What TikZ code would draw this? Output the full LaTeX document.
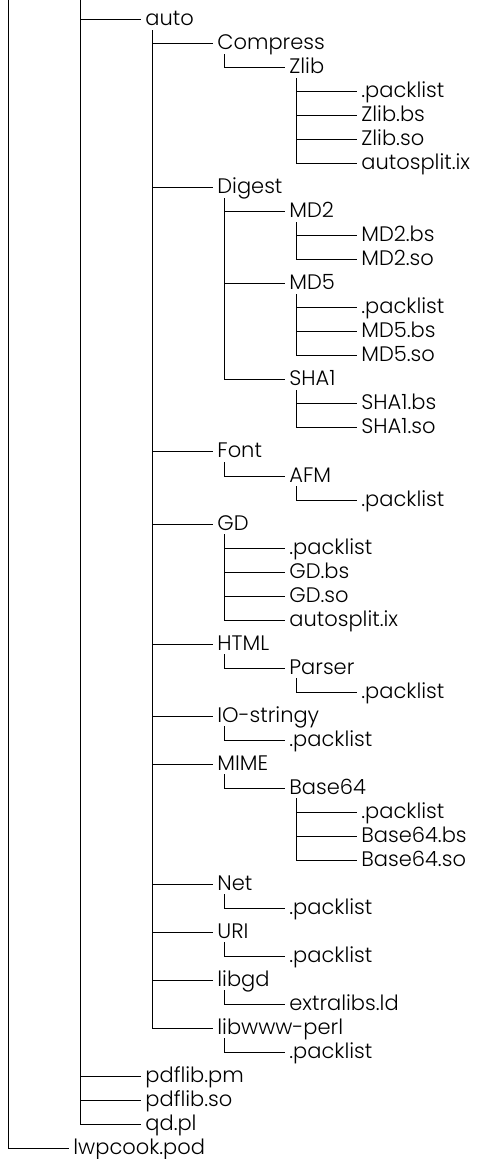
\documentclass[tikz,border=0pt]{standalone}
\usepackage{fontspec}
\setmainfont{Poppins}[UprightFont={* Light}]
\usetikzlibrary{calc}
\tikzset{
  %% 目录项
  entry/.style={anchor=west,inner xsep=2pt,inner ysep=0pt,
                text height=6pt,text depth=0pt,
                font=\fontsize{10.5}{13}\selectfont},
  %% 树枝连线
  branch/.style={draw=black,line width=0.5pt},
}
\begin{document}
\begin{tikzpicture}[x=0.5pt,y=-0.5pt]
    \useasboundingbox (0,0) rectangle (478,1159);

    %% 顶层（上方被截掉）
    \coordinate (rootA) at (8,-6);
    \coordinate (rootB) at (80,-6);

    %% 第一层
    \node[entry] (auto)     at (141,20)   {auto};
    \node[entry] (pdflibpm) at (141,1076) {pdflib.pm};
    \node[entry] (pdflibso) at (141,1100) {pdflib.so};
    \node[entry] (qdpl)     at (141,1124) {qd.pl};
    \node[entry] (lwpcook)  at (69,1148)  {lwpcook.pod};

    %% auto 下的目录
    \node[entry] (compress) at (213,44)   {Compress};
    \node[entry] (digest)   at (213,188)  {Digest};
    \node[entry] (font)     at (213,452)  {Font};
    \node[entry] (gd)       at (213,524)  {GD};
    \node[entry] (html)     at (213,644)  {HTML};
    \node[entry] (iostr)    at (213,716)  {IO-stringy};
    \node[entry] (mime)     at (213,764)  {MIME};
    \node[entry] (net)      at (213,884)  {Net};
    \node[entry] (uri)      at (213,932)  {URI};
    \node[entry] (libgd)    at (213,980)  {libgd};
    \node[entry] (libwww)   at (213,1028) {libwww-perl};

    %% Compress / Zlib
    \node[entry] (zlib)     at (285,68)   {Zlib};
    \node[entry] (zlibpl)   at (357,92)   {.packlist};
    \node[entry] (zlibbs)   at (357,116)  {Zlib.bs};
    \node[entry] (zlibso)   at (357,140)  {Zlib.so};
    \node[entry] (zlibix)   at (357,164)  {autosplit.ix};

    %% Digest
    \node[entry] (mdtwo)    at (285,212)  {MD2};
    \node[entry] (mdtwobs)  at (357,236)  {MD2.bs};
    \node[entry] (mdtwoso)  at (357,260)  {MD2.so};
    \node[entry] (mdfive)   at (285,284)  {MD5};
    \node[entry] (mdfivepl) at (357,308)  {.packlist};
    \node[entry] (mdfivebs) at (357,332)  {MD5.bs};
    \node[entry] (mdfiveso) at (357,356)  {MD5.so};
    \node[entry] (sha)      at (285,380)  {SHA1};
    \node[entry] (shabs)    at (357,404)  {SHA1.bs};
    \node[entry] (shaso)    at (357,428)  {SHA1.so};

    %% Font / AFM
    \node[entry] (afm)      at (285,476)  {AFM};
    \node[entry] (afmpl)    at (357,500)  {.packlist};

    %% GD
    \node[entry] (gdpl)     at (285,548)  {.packlist};
    \node[entry] (gdbs)     at (285,572)  {GD.bs};
    \node[entry] (gdso)     at (285,596)  {GD.so};
    \node[entry] (gdix)     at (285,620)  {autosplit.ix};

    %% HTML / Parser
    \node[entry] (parser)   at (285,668)  {Parser};
    \node[entry] (parserpl) at (357,692)  {.packlist};

    %% IO-stringy
    \node[entry] (iostrpl)  at (285,740)  {.packlist};

    %% MIME / Base64
    \node[entry] (base)     at (285,788)  {Base64};
    \node[entry] (basepl)   at (357,812)  {.packlist};
    \node[entry] (basebs)   at (357,836)  {Base64.bs};
    \node[entry] (baseso)   at (357,860)  {Base64.so};

    %% Net / URI / libgd / libwww-perl
    \node[entry] (netpl)    at (285,908)  {.packlist};
    \node[entry] (uripl)    at (285,956)  {.packlist};
    \node[entry] (libgdld)  at (285,1004) {extralibs.ld};
    \node[entry] (libwwwpl) at (285,1052) {.packlist};

    %% 竖线起点（父项下方）
    \foreach \p in {auto,compress,zlib,digest,mdtwo,mdfive,sha,font,afm,
                    gd,html,parser,iostr,mime,base,net,uri,libgd,libwww}
      \coordinate (\p V) at ([xshift=5.5pt,yshift=-2pt]\p.south west);

    %% 连线
    \draw[branch] (rootA) |- (lwpcook.west);
    \foreach \c in {auto,pdflibpm,pdflibso,qdpl}
      \draw[branch] (rootB) |- (\c.west);
    \foreach \c in {compress,digest,font,gd,html,iostr,mime,net,uri,libgd,libwww}
      \draw[branch] (autoV) |- (\c.west);
    \draw[branch] (compressV) |- (zlib.west);
    \foreach \c in {zlibpl,zlibbs,zlibso,zlibix}
      \draw[branch] (zlibV) |- (\c.west);
    \foreach \c in {mdtwo,mdfive,sha}
      \draw[branch] (digestV) |- (\c.west);
    \foreach \c in {mdtwobs,mdtwoso}
      \draw[branch] (mdtwoV) |- (\c.west);
    \foreach \c in {mdfivepl,mdfivebs,mdfiveso}
      \draw[branch] (mdfiveV) |- (\c.west);
    \foreach \c in {shabs,shaso}
      \draw[branch] (shaV) |- (\c.west);
    \draw[branch] (fontV) |- (afm.west);
    \draw[branch] (afmV) |- (afmpl.west);
    \foreach \c in {gdpl,gdbs,gdso,gdix}
      \draw[branch] (gdV) |- (\c.west);
    \draw[branch] (htmlV) |- (parser.west);
    \draw[branch] (parserV) |- (parserpl.west);
    \draw[branch] (iostrV) |- (iostrpl.west);
    \draw[branch] (mimeV) |- (base.west);
    \foreach \c in {basepl,basebs,baseso}
      \draw[branch] (baseV) |- (\c.west);
    \draw[branch] (netV) |- (netpl.west);
    \draw[branch] (uriV) |- (uripl.west);
    \draw[branch] (libgdV) |- (libgdld.west);
    \draw[branch] (libwwwV) |- (libwwwpl.west);
\end{tikzpicture}
\end{document}
